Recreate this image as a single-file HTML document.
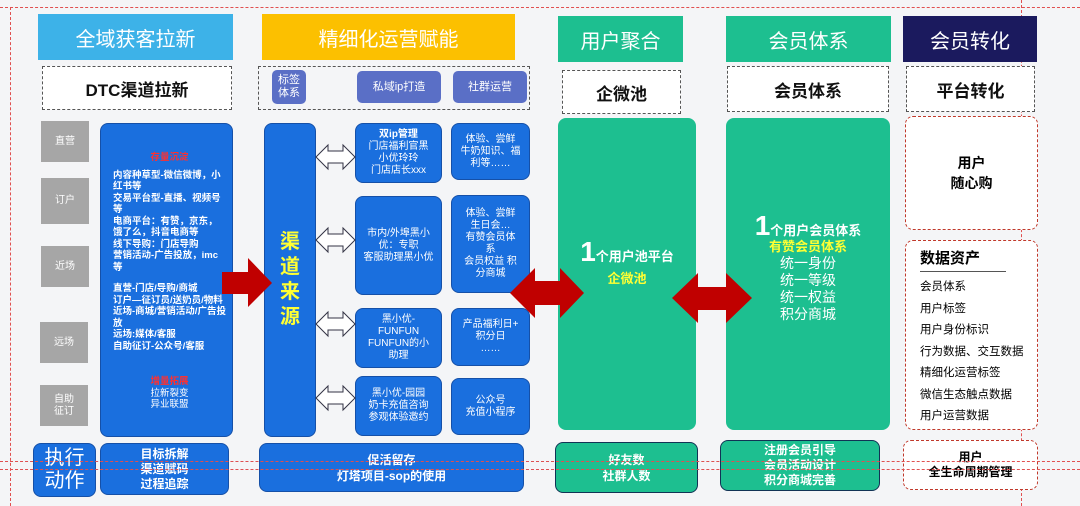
<!DOCTYPE html>
<html><head><meta charset="utf-8"><style>
body{margin:0;width:1080px;height:506px;background:#f4f5f7;position:relative;overflow:hidden;font-family:"Liberation Sans","Noto Sans CJK SC",sans-serif}
div{position:absolute;box-sizing:border-box}
.c{display:flex;align-items:center;justify-content:center;text-align:center;flex-direction:column}
.hd{color:#fff;font-size:20px}
.dash{border:1.5px dashed #555;font-weight:bold;font-size:17px;color:#111;background:#fff}
.pu{background:#5a6fc6;color:#fff;font-size:11px;border-radius:5px;line-height:13px}
.g{background:#a6a6a6;color:#fff;font-size:10px;line-height:12px}
.b{background:#1a6fde;color:#fff;border-radius:8px;border:1px solid #1550a8;font-size:10px;line-height:12px}
.gr{background:#1dbf90;color:#fff;border-radius:8px}
.rd{border:1.5px dashed #c0392b;border-radius:8px;background:#fff}
.hl{border-top:1px dashed #e05050;height:0}
</style></head><body>
<div class="hl" style="left:0;top:7px;width:1080px"></div>
<div style="left:10px;top:7px;height:499px;border-left:1px dashed #e05050"></div>
<div style="left:1021px;top:0;height:506px;border-left:1px dashed #e05050"></div>

<div class="hd c" style="left:38px;top:14px;width:195px;height:46px;background:#3db2e8">全域获客拉新</div>
<div class="hd c" style="left:262px;top:14px;width:253px;height:46px;background:#fcc000">精细化运营赋能</div>
<div class="hd c" style="left:558px;top:16px;width:125px;height:46px;background:#1dbf90">用户聚合</div>
<div class="hd c" style="left:726px;top:16px;width:165px;height:46px;background:#1dbf90">会员体系</div>
<div class="hd c" style="left:903px;top:16px;width:134px;height:46px;background:#1b1a5e">会员转化</div>

<div class="dash c" style="left:42px;top:66px;width:190px;height:44px">DTC渠道拉新</div>
<div class="dash" style="left:258px;top:66px;width:272px;height:44px;background:#f4f5f7"></div>
<div class="pu c" style="left:272px;top:70px;width:34px;height:34px">标签<br>体系</div>
<div class="pu c" style="left:357px;top:71px;width:84px;height:32px">私域ip打造</div>
<div class="pu c" style="left:453px;top:71px;width:74px;height:32px">社群运营</div>
<div class="dash c" style="left:562px;top:70px;width:119px;height:44px">企微池</div>
<div class="dash c" style="left:727px;top:66px;width:162px;height:46px">会员体系</div>
<div class="dash c" style="left:906px;top:66px;width:129px;height:46px">平台转化</div>

<div class="g c" style="left:41px;top:121px;width:48px;height:41px">直营</div>
<div class="g c" style="left:41px;top:178px;width:48px;height:46px">订户</div>
<div class="g c" style="left:41px;top:246px;width:48px;height:41px">近场</div>
<div class="g c" style="left:40px;top:322px;width:48px;height:41px">远场</div>
<div class="g c" style="left:40px;top:385px;width:48px;height:41px">自助<br>征订</div>

<div class="b" style="left:100px;top:123px;width:133px;height:314px;padding:28px 6px 0 12px;font-weight:bold;font-size:9.5px;line-height:11.5px">
<div style="position:static;color:#ff3030;text-align:center">存量沉淀</div>
<div style="position:static;margin-top:6px">内容种草型-微信微博，小红书等<br>交易平台型-直播、视频号等<br>电商平台：有赞，京东，饿了么，抖音电商等<br>线下导购：门店导购<br>营销活动-广告投放，imc等</div>
<div style="position:static;margin-top:10px">直营-门店/导购/商城<br>订户—征订员/送奶员/物料<br>近场-商城/营销活动/广告投放<br>远场:媒体/客服<br>自助征订-公众号/客服</div>
<div style="position:static;margin-top:24px;text-align:center"><span style="color:#ff3030">增量拓展</span><br><span style="font-weight:normal">拉新裂变<br>异业联盟</span></div>
</div>

<div class="b c" style="left:264px;top:123px;width:52px;height:314px;color:#ffff33;font-size:20px;font-weight:bold;line-height:25px">渠<br>道<br>来<br>源</div>
<div class="b c" style="left:355px;top:123px;width:87px;height:60px"><b>双ip管理</b>门店福利官黑<br>小优玲玲<br>门店店长xxx</div>
<div class="b c" style="left:355px;top:196px;width:87px;height:99px">市内/外埠黑小<br>优：专职<br>客服助理黑小优</div>
<div class="b c" style="left:355px;top:308px;width:87px;height:60px">黑小优-<br>FUNFUN<br>FUNFUN的小<br>助理</div>
<div class="b c" style="left:355px;top:376px;width:87px;height:60px">黑小优-园园<br>奶卡充值咨询<br>参观体验邀约</div>
<div class="b c" style="left:451px;top:123px;width:79px;height:57px">体验、尝鲜<br>牛奶知识、福<br>利等……</div>
<div class="b c" style="left:451px;top:195px;width:79px;height:98px">体验、尝鲜<br>生日会…<br>有赞会员体<br>系<br>会员权益 积<br>分商城</div>
<div class="b c" style="left:451px;top:308px;width:79px;height:58px">产品福利日+<br>积分日<br>……</div>
<div class="b c" style="left:451px;top:378px;width:79px;height:57px">公众号<br>充值小程序</div>

<div class="gr" style="left:558px;top:118px;width:138px;height:312px;text-align:center;padding-top:118px;font-weight:bold;font-size:13px"><span style="font-size:28px">1</span>个用户池平台<br><span style="color:#ffff33">企微池</span></div>
<div class="gr" style="left:726px;top:118px;width:164px;height:312px;text-align:center;padding-top:100px;font-weight:bold;font-size:13px;line-height:16px"><span style="font-size:28px">1</span>个用户会员体系<br><span style="color:#ffff33">有赞会员体系</span><br><span style="font-weight:normal;font-size:14px">统一身份<br>统一等级<br>统一权益<br>积分商城</span></div>

<svg style="position:absolute;left:0;top:0" width="1080" height="506">
<polygon points="222,272 248,272 248,258 272,283 248,307 248,294 222,294" fill="#c00000"/>
<polygon points="510,293 535,268 535,281 560,281 560,268 584,293 560,318 560,305 535,305 535,318" fill="#c00000"/>
<polygon points="672,298 698,273 698,287 726,287 726,273 752,298 726,323 726,310 698,310 698,323" fill="#c00000"/>
<g fill="#fff" stroke="#334" stroke-width="1">
<polygon points="316,157 328,145 328,151 343,151 343,145 355,157 343,169 343,163 328,163 328,169"/>
<polygon points="316,240 328,228 328,234 343,234 343,228 355,240 343,252 343,246 328,246 328,252"/>
<polygon points="316,324 328,312 328,318 343,318 343,312 355,324 343,336 343,330 328,330 328,336"/>
<polygon points="316,398 328,386 328,392 343,392 343,386 355,398 343,410 343,404 328,404 328,410"/>
</g>
</svg>

<div class="rd c" style="left:905px;top:116px;width:133px;height:114px;font-weight:bold;font-size:14px;line-height:20px">用户<br>随心购</div>
<div class="rd" style="left:905px;top:240px;width:133px;height:190px;padding:6px 0 0 14px;font-size:11.5px;line-height:21.5px">
<div style="position:static;font-weight:bold;font-size:15px;line-height:24px;border-bottom:1px solid #555;width:86px;margin-bottom:5px">数据资产</div>
会员体系<br>用户标签<br>用户身份标识<br>行为数据、交互数据<br>精细化运营标签<br>微信生态触点数据<br>用户运营数据</div>
<div class="rd c" style="left:903px;top:440px;width:135px;height:50px;font-weight:bold;font-size:12px;line-height:15px">用户<br>全生命周期管理</div>

<div class="b c" style="left:33px;top:443px;width:63px;height:54px;font-size:20px;line-height:23px;font-weight:normal">执行<br>动作</div>
<div class="b c" style="left:100px;top:443px;width:129px;height:52px;font-size:12px;line-height:15px;font-weight:bold">目标拆解<br>渠道赋码<br>过程追踪</div>
<div class="b c" style="left:259px;top:443px;width:265px;height:49px;font-size:12px;line-height:16px;font-weight:bold">促活留存<br>灯塔项目-sop的使用</div>
<div class="gr c" style="left:555px;top:442px;width:143px;height:51px;border:1px solid #135;font-size:12px;line-height:16px;font-weight:bold">好友数<br>社群人数</div>
<div class="gr c" style="left:720px;top:440px;width:160px;height:51px;border:1px solid #135;font-size:12px;line-height:15px;font-weight:bold">注册会员引导<br>会员活动设计<br>积分商城完善</div>

<div class="hl" style="left:0;top:461px;width:1080px"></div>
<div class="hl" style="left:0;top:469px;width:1080px"></div>
</body></html>
